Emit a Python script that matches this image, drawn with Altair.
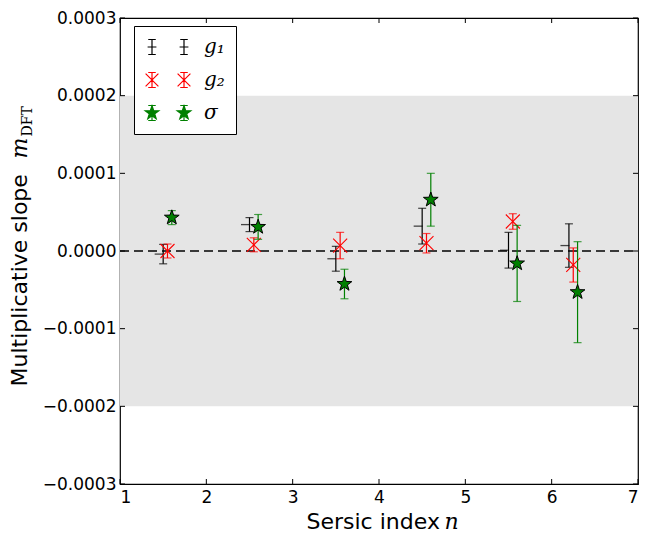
import math
import altair as alt
import pandas as pd

# ---------------- data ----------------
sersic_n = [1.5, 2.5, 3.5, 4.5, 5.5, 6.2]
g1_shift, g2_shift, sig_shift = 0.0, 0.05, 0.10

g1_val = [-0.4e-5, 3.4e-5, -1.0e-5, 3.2e-5, 0.1e-5, 0.7e-5]
g1_err = [1.25e-5, 0.9e-5, 1.6e-5, 2.3e-5, 2.3e-5, 2.8e-5]
g2_val = [0.0, 0.8e-5, 0.7e-5, 1.0e-5, 3.8e-5, -1.8e-5]
g2_err = [0.9e-5, 0.9e-5, 1.7e-5, 1.25e-5, 1.0e-5, 2.2e-5]
sig_val = [4.3e-5, 3.1e-5, -4.25e-5, 6.6e-5, -1.6e-5, -5.3e-5]
sig_err = [0.9e-5, 1.6e-5, 1.9e-5, 3.4e-5, 4.9e-5, 6.5e-5]

band_limits = [-0.0002, 0.0002]
x_ticks = [1, 2, 3, 4, 5, 6, 7]
y_ticks = [-0.0003, -0.0002, -0.0001, 0.0, 0.0001, 0.0002, 0.0003]
series_names = ["g₁", "g₂", "σ"]
series_colors = ["black", "red", "green"]

# ---------------- layout / style ----------------
W, H = 518, 466
TL = 5  # inward tick length

xs = alt.Scale(domain=[1, 7], nice=False, zero=False)
ys = alt.Scale(domain=[-0.0003, 0.0003], nice=False, zero=False)


def frame(vals, shift, errs, name):
    return pd.DataFrame({
        "x": [n + shift for n in sersic_n],
        "v": vals,
        "lo": [v - e for v, e in zip(vals, errs)],
        "hi": [v + e for v, e in zip(vals, errs)],
        "series": name,
    })


d_g1 = frame(g1_val, g1_shift, g1_err, series_names[0])
d_g2 = frame(g2_val, g2_shift, g2_err, series_names[1])
d_sig = frame(sig_val, sig_shift, sig_err, series_names[2])
d_all = pd.concat([d_g1, d_g2, d_sig], ignore_index=True)

band_df = pd.DataFrame({"lo": [band_limits[0]], "hi": [band_limits[1]]})
zero_df = pd.DataFrame({"y": [0.0]})
yt_df = pd.DataFrame({"y": y_ticks})
xt_df = pd.DataFrame({"x": x_ticks})

# marker paths
X_PATH = "M-1,-1L1,1M-1,1L1,-1"


def star_at(cx, s):
    p = []
    for k in range(10):
        r = s if k % 2 == 0 else 0.40 * s
        a = -math.pi / 2 + k * math.pi / 5
        p.append(f"{cx + r*math.cos(a):.3f},{r*math.sin(a):.3f}")
    return "M" + "L".join(p) + "Z"


STAR_PATH = star_at(0, 1.0)


def ebar(cx, h=0.94, c=0.47):
    return (f"M{cx},{-h}L{cx},{h}M{cx-c},{-h}L{cx+c},{-h}"
            f"M{cx-c},{h}L{cx+c},{h}")


leg_g1 = "".join(ebar(cx) + f"M{cx-0.55},0L{cx+0.55},0" for cx in (-2, 2))
leg_g2 = "".join(ebar(cx) + f"M{cx-0.8},-0.8L{cx+0.8},0.8M{cx-0.8},0.8L{cx+0.8},-0.8"
                 for cx in (-2, 2))
leg_sig = "".join(ebar(cx) + star_at(cx, 0.9) for cx in (-2, 2))

NOAX = None

y_main = alt.Axis(orient="left", values=y_ticks, format=".4f", labelFont="DejaVu Sans",
                  labelFontSize=17, labelColor="black", labelPadding=4, ticks=False,
                  domain=False, grid=False, title="Multiplicative slope",
                  titleFont="DejaVu Sans", titleFontSize=22, titleFontWeight="normal",
                  titleColor="black", titleAngle=270, titleAlign="left",
                  titleBaseline="alphabetic", titleX=-94, titleY=368)
y_m = alt.Axis(orient="left", labels=False, ticks=False, domain=False, grid=False,
               title="m", titleFont="DejaVu Serif", titleFontStyle="italic",
               titleFontSize=22, titleFontWeight="normal", titleColor="black",
               titleAngle=270, titleAlign="left", titleBaseline="alphabetic",
               titleX=-94, titleY=140)
y_dft = alt.Axis(orient="left", labels=False, ticks=False, domain=False, grid=False,
                 title="DFT", titleFont="DejaVu Serif", titleFontSize=14,
                 titleFontWeight="normal", titleColor="black", titleAngle=270,
                 titleAlign="left", titleBaseline="alphabetic", titleX=-89, titleY=118)
x_main = alt.Axis(orient="bottom", values=x_ticks, format="d", labelFont="DejaVu Sans",
                  labelFontSize=17, labelColor="black", labelPadding=5, ticks=False,
                  domain=False, grid=False, title="Sersic index", titleFont="DejaVu Sans",
                  titleFontSize=22, titleFontWeight="normal", titleColor="black",
                  titleAlign="left", titleBaseline="alphabetic", titleX=186, titleY=44)
x_n = alt.Axis(orient="bottom", labels=False, ticks=False, domain=False, grid=False,
               title="n", titleFont="DejaVu Serif", titleFontStyle="italic",
               titleFontSize=22, titleFontWeight="normal", titleColor="black",
               titleAlign="left", titleBaseline="alphabetic", titleX=324, titleY=44)

band = alt.Chart(band_df).mark_rect(color="#e5e5e5").encode(
    y=alt.Y("lo:Q", scale=ys, axis=y_main), y2="hi:Q",
    x=alt.value(0), x2=alt.value(W))

zero = alt.Chart(zero_df).mark_rule(color="black", strokeWidth=1.5, strokeDash=[9, 5]).encode(
    y=alt.Y("y:Q", scale=ys, axis=y_m), x=alt.value(0), x2=alt.value(W))

yt_left = alt.Chart(yt_df).mark_rule(color="black", strokeWidth=1).encode(
    y=alt.Y("y:Q", scale=ys, axis=y_dft), x=alt.value(0), x2=alt.value(TL))
yt_right = alt.Chart(yt_df).mark_rule(color="black", strokeWidth=1).encode(
    y=alt.Y("y:Q", scale=ys, axis=NOAX), x=alt.value(W - TL), x2=alt.value(W))
xt_bottom = alt.Chart(xt_df).mark_rule(color="black", strokeWidth=1).encode(
    x=alt.X("x:Q", scale=xs, axis=x_main), y=alt.value(H - TL), y2=alt.value(H))
xt_top = alt.Chart(xt_df).mark_rule(color="black", strokeWidth=1).encode(
    x=alt.X("x:Q", scale=xs, axis=x_n), y=alt.value(0), y2=alt.value(TL))


def err_layers(df, color):
    base = alt.Chart(df)
    X = alt.X("x:Q", scale=xs, axis=NOAX)
    bar = base.mark_rule(color=color, strokeWidth=1.2).encode(
        x=X, y=alt.Y("lo:Q", scale=ys, axis=NOAX), y2="hi:Q")
    cap_lo = base.mark_tick(color=color, orient="horizontal", size=8, thickness=1.2).encode(
        x=X, y=alt.Y("lo:Q", scale=ys, axis=NOAX))
    cap_hi = base.mark_tick(color=color, orient="horizontal", size=8, thickness=1.2).encode(
        x=X, y=alt.Y("hi:Q", scale=ys, axis=NOAX))
    return [bar, cap_lo, cap_hi]


X_ = alt.X("x:Q", scale=xs, axis=NOAX)
Y_ = alt.Y("v:Q", scale=ys, axis=NOAX)

g1_mark = alt.Chart(d_g1).mark_tick(color="black", orient="horizontal", size=9,
                                    thickness=1.3, xOffset=-4).encode(x=X_, y=Y_)
g2_mark = alt.Chart(d_g2).mark_point(shape=X_PATH, size=196, filled=False, stroke="red",
                                     strokeWidth=1.1, opacity=1).encode(x=X_, y=Y_)
sig_mark = alt.Chart(d_sig).mark_point(shape=STAR_PATH, size=240, filled=True, fill="green",
                                       stroke="black", strokeWidth=1, opacity=1).encode(x=X_, y=Y_)

leg = alt.Legend(title=None, orient="none", legendX=14, legendY=8, padding=11,
                 strokeColor="black", fillColor="white", cornerRadius=0,
                 symbolSize=256, symbolOffset=13, labelOffset=26, symbolStrokeWidth=1.2,
                 symbolFillColor="green",
                 labelFont="DejaVu Serif", labelFontStyle="italic", labelFontSize=20,
                 labelColor="black", rowPadding=13, labelLimit=0)
legend_layer = alt.Chart(d_all).mark_point(opacity=0, filled=True, fill="green").encode(
    x=X_, y=Y_,
    stroke=alt.Stroke("series:N", scale=alt.Scale(domain=series_names, range=series_colors),
                      legend=leg),
    shape=alt.Shape("series:N", scale=alt.Scale(domain=series_names,
                                                range=[leg_g1, leg_g2, leg_sig]),
                    legend=leg),
)

layers = [band, zero, yt_left, yt_right, xt_bottom, xt_top]
layers += err_layers(d_g1, "black") + [g1_mark]
layers += err_layers(d_g2, "red") + [g2_mark]
layers += err_layers(d_sig, "green") + [sig_mark]
layers += [legend_layer]

chart = alt.layer(*layers).resolve_axis(x="independent", y="independent").properties(
    width=W, height=H, autosize="none",
    padding={"left": 112, "top": 10, "right": 6, "bottom": 49},
    background="white",
).configure_view(stroke="black", strokeWidth=1.2)

chart.save("out.html", embed_options={"renderer": "svg", "actions": False})
